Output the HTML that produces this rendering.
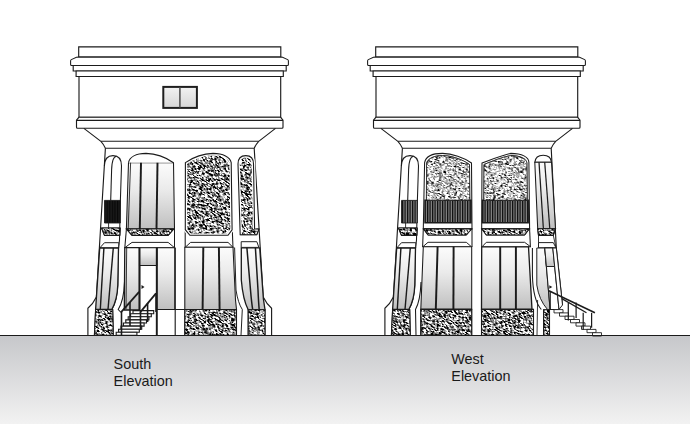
<!DOCTYPE html>
<html><head><meta charset="utf-8"><style>
html,body{margin:0;padding:0;background:#fff;width:690px;height:424px;overflow:hidden;}
svg{position:absolute;left:0;top:0;display:block}
.lbl{position:absolute;font-family:"Liberation Sans",sans-serif;font-size:14.4px;line-height:17px;color:#1a1a1a;}
</style></head><body>
<svg width="690" height="424" viewBox="0 0 690 424">
<defs>
  <filter id="nD" x="0" y="0" width="1" height="1" filterUnits="objectBoundingBox" color-interpolation-filters="sRGB">
    <feTurbulence type="fractalNoise" baseFrequency="0.35 0.9" numOctaves="3" seed="7"/>
    <feColorMatrix type="matrix" values="5 0 0 0 -1.95  5 0 0 0 -1.95  5 0 0 0 -1.95  0 0 0 0 1"/>
  </filter>
  <filter id="nL" x="0" y="0" width="1" height="1" filterUnits="objectBoundingBox" color-interpolation-filters="sRGB">
    <feTurbulence type="fractalNoise" baseFrequency="0.4 1.1" numOctaves="2" seed="11"/>
    <feColorMatrix type="matrix" values="3.4 0 0 0 -0.95  3.4 0 0 0 -0.95  3.4 0 0 0 -0.95  0 0 0 0 1"/>
  </filter>
  <clipPath id="cD"><path transform="translate(0,0)" d="M101.50 228.00 L120.20 228.00 L119.80 235.40 L104.50 235.40 Z"/><path transform="translate(0,0)" d="M95.60 309.50 L112.70 309.50 L113.30 335.30 L94.40 335.30 Z"/><path transform="translate(0,0)" d="M126.40 229.00 L173.80 229.00 L168.10 235.40 L132.00 235.40 Z"/><path transform="translate(0,0)" d="M185.4 162.6 C193 157.5 204 153.6 213 153.4 C223 153.4 230.2 157 231.2 162.6 L232.1 229.7 L228 235.3 L189.9 235.3 L185.3 229.7 Z"/><path transform="translate(0,0)" d="M184.80 309.50 L236.50 309.50 L236.50 335.30 L184.80 335.30 Z"/><path transform="translate(0,0)" d="M238 164 Q238 155.6 245.8 155.6 Q253.5 155.6 253.5 164 L254.6 229 L258.9 229 L256.8 234.7 L240.2 234.7 Z"/><path transform="translate(0,0)" d="M248.20 309.70 L265.00 309.70 L265.00 335.30 L248.20 335.30 Z"/><path transform="translate(297,0)" d="M101.50 228.00 L120.20 228.00 L119.80 235.40 L104.50 235.40 Z"/><path transform="translate(297,0)" d="M95.60 309.50 L112.70 309.50 L113.30 335.30 L94.40 335.30 Z"/><path transform="translate(297,0)" d="M126.50 228.90 L174.70 228.90 L169.30 235.00 L131.00 235.00 Z"/><path transform="translate(297,0)" d="M123.80 309.40 L174.70 309.40 L174.70 335.30 L123.80 335.30 Z"/><path transform="translate(297,0)" d="M184.80 228.90 L232.30 228.90 L227.60 235.00 L189.30 235.00 Z"/><path transform="translate(297,0)" d="M184.50 309.40 L236.50 309.40 L236.50 335.30 L184.50 335.30 Z"/><path transform="translate(297,0)" d="M240.70 228.70 L258.50 228.70 L256.30 235.40 L241.50 235.40 Z"/><path transform="translate(297,0)" d="M246.60 309.70 L252.50 309.70 L252.50 335.30 L246.60 335.30 Z"/></clipPath>
  <clipPath id="cL"><path transform="translate(297,0)" d="M129.6 163.2 C130.5 159 136.5 155.5 145.5 155.5 C154.5 155.7 165 159.2 172.5 164.5 L172.8 200.2 L129.4 200.2 Z"/><path transform="translate(297,0)" d="M187 164.5 C195 161.2 205 157.2 213.5 155.5 C223.5 155.5 229.9 159 229.9 163.2 L230.3 200.2 L186.8 200.2 Z"/></clipPath>
  <linearGradient id="glassV" x1="0" y1="0" x2="0" y2="1">
    <stop offset="0" stop-color="#fcfcfc"/>
    <stop offset="0.4" stop-color="#ebebeb"/>
    <stop offset="1" stop-color="#bfbfbf"/>
  </linearGradient>
  <pattern id="grille" patternUnits="userSpaceOnUse" width="2.5" height="10">
    <rect width="2.5" height="10" fill="#0c0c0c"/>
    <rect x="1.4" width="0.8" height="10" fill="#c8c8c8"/>
  </pattern>
  <pattern id="grilleD" patternUnits="userSpaceOnUse" width="2.6" height="10">
    <rect width="2.6" height="10" fill="#080808"/>
    <rect x="1.5" width="0.6" height="10" fill="#333"/>
  </pattern>
  <linearGradient id="winG" x1="0" y1="0" x2="0" y2="1">
    <stop offset="0" stop-color="#f2f2f2"/>
    <stop offset="1" stop-color="#d6d6d6"/>
  </linearGradient>
  <linearGradient id="ground" x1="0" y1="0" x2="0" y2="1">
    <stop offset="0" stop-color="#c6c7ca"/>
    <stop offset="1" stop-color="#f2f2f2"/>
  </linearGradient>
</defs>
<rect x="0" y="335.3" width="690" height="89" fill="url(#ground)"/><g><path d="M78.70 46.90 L280.80 46.90 L280.80 57.10 L78.70 57.10 Z" fill="#fff" stroke="#1b1b1b" stroke-width="1.14"/><path d="M78.7 57.1 L76.4 57.2 L71.3 59.6 Q70.6 60 70.6 60.9 L70.6 64.5 Q70.6 65.5 71.6 65.5 L287.4 65.5 Q288.4 65.5 288.4 64.5 L288.4 60.9 Q288.4 60 287.7 59.6 L282.6 57.2 L280.8 57.1 Z" fill="#fff" stroke="#1b1b1b" stroke-width="1.06"/><path d="M73.20 65.50 L286.20 65.50 L286.20 71.00 L73.20 71.00 Z" fill="#fff" stroke="#1b1b1b" stroke-width="1.14"/><path d="M76.10 71.00 L283.30 71.00 L283.30 76.50 L76.10 76.50 Z" fill="#fff" stroke="#1b1b1b" stroke-width="1.14"/><path d="M79.00 76.50 L280.70 76.50 L280.70 117.30 L79.00 117.30 Z" fill="#fff" stroke="#1b1b1b" stroke-width="1.14"/><path d="M78.8 117.3 L280.7 117.3 L283 120.2 L283 127.3 Q283 128.3 282 128.3 L77.5 128.3 Q76.5 128.3 76.5 127.3 L76.5 120.2 Z" fill="#fff" stroke="#1b1b1b" stroke-width="1.14"/><path d="M76.50 120.40 L283.00 120.40" fill="none" stroke="#1b1b1b" stroke-width="1.14"/><path d="M83.9 128.3 L100.9 141.3 Q103.5 144 105.4 148.3 L254.2 148.3 Q256.1 144 258.7 141.3 L275.5 128.3" fill="none" stroke="#1b1b1b" stroke-width="1.06"/><path d="M100.90 141.30 L258.70 141.30" fill="none" stroke="#1b1b1b" stroke-width="1.06"/><path d="M105.4 148.3 L96.4 297 Q93 304 87.9 308.3 L87.9 335.3" fill="none" stroke="#1b1b1b" stroke-width="1.14"/><path d="M104.4 166 Q104.6 155.6 113 155.6 Q121.5 155.6 121.5 166" fill="none" stroke="#1b1b1b" stroke-width="1.06"/><path d="M111.6 170 Q112 156.5 116.5 156.2" fill="none" stroke="#1b1b1b" stroke-width="1.06"/><path d="M111.60 170.00 L110.70 200.40" fill="none" stroke="#1b1b1b" stroke-width="1.06"/><path d="M121.5 166 L120.4 200 L119.5 240 L118.3 250 L117.8 285 Q117.3 300 111.8 309.5" fill="none" stroke="#1b1b1b" stroke-width="1.06"/><path d="M104.50 200.40 L120.30 200.40 L120.30 223.00 L104.50 223.00 Z" fill="url(#grilleD)" stroke="#1b1b1b" stroke-width="0.88"/><path d="M108.60 223.00 L108.60 228.00" fill="none" stroke="#1b1b1b" stroke-width="0.88"/><path d="M101.50 228.00 L120.20 228.00 L119.80 235.40 L104.50 235.40 Z" fill="none" stroke="#1b1b1b" stroke-width="0.97"/><path d="M104.50 242.70 L118.80 242.70 L118.60 248.00 L99.70 248.00 Z" fill="#fff" stroke="#1b1b1b" stroke-width="0.97"/><path d="M99.7 248 L118.5 248 L117.8 285 Q117.3 300 111.8 309.5 L95.6 309.5 Z" fill="url(#glassV)" stroke="#1b1b1b" stroke-width="1.32"/><path d="M103.90 248.00 L100.30 309.50" fill="none" stroke="#1b1b1b" stroke-width="1.41"/><path d="M113.30 248.00 L108.00 309.50" fill="none" stroke="#1b1b1b" stroke-width="1.41"/><path d="M95.60 309.50 L112.70 309.50 L113.30 335.30 L94.40 335.30 Z" fill="none" stroke="#1b1b1b" stroke-width="0.97"/><path d="M254.2 148.3 L263.2 297 Q266.6 304 271.6 308.3 L271.6 335.3" fill="none" stroke="#1b1b1b" stroke-width="1.14"/><rect x="163.3" y="86.9" width="33.6" height="21" fill="url(#winG)" stroke="#1e1e1e" stroke-width="2"/><rect x="179.1" y="87.5" width="1.6" height="20" fill="#555"/><path d="M128.50 162.70 L173.50 162.70 L174.50 229.00 L126.40 229.00 Z" fill="url(#glassV)" stroke="#1b1b1b" stroke-width="1.06"/><path d="M128.5 162.7 C129.5 157 136 153.4 146 153.4 C155 153.6 166 157.5 173.5 162.7" fill="#fff" stroke="#1b1b1b" stroke-width="1.06"/><path d="M130.60 162.70 L128.20 229.00" fill="none" stroke="#1b1b1b" stroke-width="0.88"/><path d="M141.00 162.70 L139.80 229.00" fill="none" stroke="#1b1b1b" stroke-width="1.94"/><path d="M157.50 162.70 L156.50 229.00" fill="none" stroke="#1b1b1b" stroke-width="1.94"/><path d="M126.40 229.00 L173.80 229.00 L168.10 235.40 L132.00 235.40 Z" fill="none" stroke="#1b1b1b" stroke-width="0.97"/><path d="M126.40 229.00 L124.80 248.00" fill="none" stroke="#1b1b1b" stroke-width="1.06"/><path d="M174.50 229.00 L174.50 248.00" fill="none" stroke="#1b1b1b" stroke-width="1.06"/><path d="M132.00 242.40 L168.10 242.40 L174.50 247.70 L124.80 247.70 Z" fill="#fff" stroke="#1b1b1b" stroke-width="0.97"/><path d="M124.80 247.70 L139.50 247.70 L139.50 310.00 L124.30 310.00 Z" fill="url(#glassV)" stroke="#1b1b1b" stroke-width="1.32"/><path d="M124.5 282 Q123.8 301 118.2 309.5 L120.6 312" fill="none" stroke="#1b1b1b" stroke-width="1.06"/><path d="M156.80 247.70 L174.80 247.70 L174.80 309.50 L156.80 309.50 Z" fill="url(#glassV)" stroke="#1b1b1b" stroke-width="1.06"/><path d="M139.50 247.70 L156.80 247.70 L156.80 265.50 L139.50 265.50 Z" fill="url(#glassV)" stroke="#1b1b1b" stroke-width="1.06"/><path d="M126.70 248.00 L126.00 309.00" fill="none" stroke="#1b1b1b" stroke-width="0.88"/><path d="M139.50 247.70 L139.50 312.00" fill="none" stroke="#1b1b1b" stroke-width="1.94"/><path d="M156.80 247.70 L156.80 335.30" fill="none" stroke="#1b1b1b" stroke-width="1.94"/><path d="M175.20 247.70 L175.20 335.30" fill="none" stroke="#1b1b1b" stroke-width="1.14"/><path d="M156.80 309.50 L184.80 309.50" fill="none" stroke="#1b1b1b" stroke-width="1.06"/><path d="M141.5 285 L144.5 287 L141.5 289 Z" fill="#1b1b1b"/><path d="M133.00 310.60 L153.70 310.60 L153.70 313.70 L133.00 313.70 Z" fill="#fff" stroke="#1b1b1b" stroke-width="1.14"/><path d="M130.60 313.70 L151.30 313.70 L151.30 316.80 L130.60 316.80 Z" fill="#fff" stroke="#1b1b1b" stroke-width="1.14"/><path d="M128.20 316.80 L148.90 316.80 L148.90 319.90 L128.20 319.90 Z" fill="#fff" stroke="#1b1b1b" stroke-width="1.14"/><path d="M125.80 319.90 L146.50 319.90 L146.50 323.00 L125.80 323.00 Z" fill="#fff" stroke="#1b1b1b" stroke-width="1.14"/><path d="M123.40 323.00 L144.10 323.00 L144.10 326.10 L123.40 326.10 Z" fill="#fff" stroke="#1b1b1b" stroke-width="1.14"/><path d="M121.00 326.10 L141.70 326.10 L141.70 329.20 L121.00 329.20 Z" fill="#fff" stroke="#1b1b1b" stroke-width="1.14"/><path d="M118.60 329.20 L139.30 329.20 L139.30 332.30 L118.60 332.30 Z" fill="#fff" stroke="#1b1b1b" stroke-width="1.14"/><path d="M116.20 332.30 L136.90 332.30 L136.90 335.40 L116.20 335.40 Z" fill="#fff" stroke="#1b1b1b" stroke-width="1.14"/><path d="M120.70 312.60 L139.10 291.90" fill="none" stroke="#1b1b1b" stroke-width="1.76"/><path d="M139.90 312.60 L156.00 293.40" fill="none" stroke="#1b1b1b" stroke-width="1.76"/><path d="M121.50 312.00 L121.50 335.00" fill="none" stroke="#1b1b1b" stroke-width="1.58"/><path d="M130.00 302.00 L130.00 326.00" fill="none" stroke="#1b1b1b" stroke-width="1.58"/><path d="M140.50 312.00 L140.50 330.00" fill="none" stroke="#1b1b1b" stroke-width="1.58"/><path d="M147.60 303.00 L147.60 322.00" fill="none" stroke="#1b1b1b" stroke-width="1.58"/><path d="M156.00 293.00 L156.00 312.00" fill="none" stroke="#1b1b1b" stroke-width="1.58"/><path d="M185.4 162.6 C193 157.5 204 153.6 213 153.4 C223 153.4 230.2 157 231.2 162.6 L232.1 229.7 L228 235.3 L189.9 235.3 L185.3 229.7 Z" fill="none" stroke="#1b1b1b" stroke-width="0.97"/><path d="M185.20 229.70 L185.20 248.00" fill="none" stroke="#1b1b1b" stroke-width="1.06"/><path d="M232.30 229.70 L233.00 248.00" fill="none" stroke="#1b1b1b" stroke-width="1.06"/><path d="M190.60 242.40 L228.00 242.40 L233.00 247.30 L185.20 247.30 Z" fill="#fff" stroke="#1b1b1b" stroke-width="0.97"/><path d="M184.80 247.30 L233.00 247.30 L235.50 300.00 L236.50 309.50 L184.80 309.50 Z" fill="url(#glassV)" stroke="#1b1b1b" stroke-width="1.06"/><path d="M203.30 247.30 L202.60 309.50" fill="none" stroke="#1b1b1b" stroke-width="1.94"/><path d="M218.90 247.30 L219.60 309.50" fill="none" stroke="#1b1b1b" stroke-width="1.94"/><path d="M184.80 309.50 L236.50 309.50 L236.50 335.30 L184.80 335.30 Z" fill="none" stroke="#1b1b1b" stroke-width="0.97"/><path d="M238 164 Q238 155.6 245.8 155.6 Q253.5 155.6 253.5 164 L254.6 229 L258.9 229 L256.8 234.7 L240.2 234.7 Z" fill="none" stroke="#1b1b1b" stroke-width="0.97"/><path d="M239.90 229.00 L254.60 229.00" fill="none" stroke="#1b1b1b" stroke-width="0.88"/><path d="M241.20 241.70 L256.80 241.70 L258.90 247.40 L241.20 247.40 Z" fill="#fff" stroke="#1b1b1b" stroke-width="0.97"/><path d="M241.3 247.8 L259.7 247.8 L263.4 299 L265 309.7 L248.2 309.7 Q243 300 241.3 280 Z" fill="url(#glassV)" stroke="#1b1b1b" stroke-width="1.32"/><path d="M246.9 247.8 L250.5 290 Q251.5 302 252.7 309.7" fill="none" stroke="#1b1b1b" stroke-width="1.50"/><path d="M255.4 247.8 L258 290 Q258.5 302 259.2 309.7" fill="none" stroke="#1b1b1b" stroke-width="1.50"/><path d="M234.6 247.5 L236 290 Q238 303 242.3 309.5 L241 335.3" fill="none" stroke="#1b1b1b" stroke-width="0.97"/><path d="M248.20 309.70 L265.00 309.70 L265.00 335.30 L248.20 335.30 Z" fill="none" stroke="#1b1b1b" stroke-width="0.97"/></g><g transform="translate(297,0)"><path d="M78.70 46.90 L280.80 46.90 L280.80 57.10 L78.70 57.10 Z" fill="#fff" stroke="#1b1b1b" stroke-width="1.14"/><path d="M78.7 57.1 L76.4 57.2 L71.3 59.6 Q70.6 60 70.6 60.9 L70.6 64.5 Q70.6 65.5 71.6 65.5 L287.4 65.5 Q288.4 65.5 288.4 64.5 L288.4 60.9 Q288.4 60 287.7 59.6 L282.6 57.2 L280.8 57.1 Z" fill="#fff" stroke="#1b1b1b" stroke-width="1.06"/><path d="M73.20 65.50 L286.20 65.50 L286.20 71.00 L73.20 71.00 Z" fill="#fff" stroke="#1b1b1b" stroke-width="1.14"/><path d="M76.10 71.00 L283.30 71.00 L283.30 76.50 L76.10 76.50 Z" fill="#fff" stroke="#1b1b1b" stroke-width="1.14"/><path d="M79.00 76.50 L280.70 76.50 L280.70 117.30 L79.00 117.30 Z" fill="#fff" stroke="#1b1b1b" stroke-width="1.14"/><path d="M78.8 117.3 L280.7 117.3 L283 120.2 L283 127.3 Q283 128.3 282 128.3 L77.5 128.3 Q76.5 128.3 76.5 127.3 L76.5 120.2 Z" fill="#fff" stroke="#1b1b1b" stroke-width="1.14"/><path d="M76.50 120.40 L283.00 120.40" fill="none" stroke="#1b1b1b" stroke-width="1.14"/><path d="M83.9 128.3 L100.9 141.3 Q103.5 144 105.4 148.3 L254.2 148.3 Q256.1 144 258.7 141.3 L275.5 128.3" fill="none" stroke="#1b1b1b" stroke-width="1.06"/><path d="M100.90 141.30 L258.70 141.30" fill="none" stroke="#1b1b1b" stroke-width="1.06"/><path d="M105.4 148.3 L96.4 297 Q93 304 87.9 308.3 L87.9 335.3" fill="none" stroke="#1b1b1b" stroke-width="1.14"/><path d="M104.4 166 Q104.6 155.6 113 155.6 Q121.5 155.6 121.5 166" fill="none" stroke="#1b1b1b" stroke-width="1.06"/><path d="M111.6 170 Q112 156.5 116.5 156.2" fill="none" stroke="#1b1b1b" stroke-width="1.06"/><path d="M111.60 170.00 L110.70 200.40" fill="none" stroke="#1b1b1b" stroke-width="1.06"/><path d="M121.5 166 L120.4 200 L119.5 240 L118.3 250 L117.8 285 Q117.3 300 111.8 309.5" fill="none" stroke="#1b1b1b" stroke-width="1.06"/><path d="M104.50 200.40 L120.30 200.40 L120.30 223.00 L104.50 223.00 Z" fill="url(#grille)" stroke="#1b1b1b" stroke-width="0.88"/><path d="M108.60 223.00 L108.60 228.00" fill="none" stroke="#1b1b1b" stroke-width="0.88"/><path d="M101.50 228.00 L120.20 228.00 L119.80 235.40 L104.50 235.40 Z" fill="none" stroke="#1b1b1b" stroke-width="0.97"/><path d="M104.50 242.70 L118.80 242.70 L118.60 248.00 L99.70 248.00 Z" fill="#fff" stroke="#1b1b1b" stroke-width="0.97"/><path d="M99.7 248 L118.5 248 L117.8 285 Q117.3 300 111.8 309.5 L95.6 309.5 Z" fill="url(#glassV)" stroke="#1b1b1b" stroke-width="1.32"/><path d="M103.90 248.00 L100.30 309.50" fill="none" stroke="#1b1b1b" stroke-width="1.41"/><path d="M113.30 248.00 L108.00 309.50" fill="none" stroke="#1b1b1b" stroke-width="1.41"/><path d="M95.60 309.50 L112.70 309.50 L113.30 335.30 L94.40 335.30 Z" fill="none" stroke="#1b1b1b" stroke-width="0.97"/><path d="M254.20 148.30 L259.30 248.00 L265.50 305.00" fill="none" stroke="#1b1b1b" stroke-width="1.14"/><path d="M127.6 162.6 C128.6 157 135 153.4 145.5 153.4 C155 153.6 167 157.5 174.5 163 L175 229 L126.3 229 Z" fill="#fff" stroke="#1b1b1b" stroke-width="1.06"/><path d="M129.6 163.2 C130.5 159 136.5 155.5 145.5 155.5 C154.5 155.7 165 159.2 172.5 164.5 L172.8 200.2 L129.4 200.2 Z" fill="none" stroke="#1b1b1b" stroke-width="0.70"/><path d="M128.00 200.20 L174.00 200.20 L174.00 222.80 L128.00 222.80 Z" fill="url(#grille)" stroke="#1b1b1b" stroke-width="1.50"/><path d="M126.50 228.90 L174.70 228.90 L169.30 235.00 L131.00 235.00 Z" fill="none" stroke="#1b1b1b" stroke-width="0.97"/><path d="M126.30 229.00 L125.60 247.00" fill="none" stroke="#1b1b1b" stroke-width="1.06"/><path d="M175.00 229.00 L175.00 247.00" fill="none" stroke="#1b1b1b" stroke-width="1.06"/><path d="M131.00 242.30 L169.30 242.30 L174.50 246.80 L125.80 246.80 Z" fill="#fff" stroke="#1b1b1b" stroke-width="0.97"/><path d="M126.30 246.80 L174.70 246.80 L174.70 309.40 L123.80 309.40 Z" fill="url(#glassV)" stroke="#1b1b1b" stroke-width="1.06"/><path d="M140.60 246.80 L138.80 309.40" fill="none" stroke="#1b1b1b" stroke-width="1.94"/><path d="M156.60 246.80 L156.40 309.40" fill="none" stroke="#1b1b1b" stroke-width="1.94"/><path d="M123.80 309.40 L174.70 309.40 L174.70 335.30 L123.80 335.30 Z" fill="none" stroke="#1b1b1b" stroke-width="0.97"/><path d="M124 282 Q123.3 301 118.5 309.5 L119 335.3" fill="none" stroke="#1b1b1b" stroke-width="1.06"/><path d="M185 163 C194 159.6 205 155.2 213.5 153.4 C225 153.4 231.9 157 231.9 162.6 L232.6 229 L184.7 229 Z" fill="#fff" stroke="#1b1b1b" stroke-width="1.06"/><path d="M187 164.5 C195 161.2 205 157.2 213.5 155.5 C223.5 155.5 229.9 159 229.9 163.2 L230.3 200.2 L186.8 200.2 Z" fill="none" stroke="#1b1b1b" stroke-width="0.70"/><path d="M185.50 200.20 L231.20 200.20 L231.20 222.80 L185.50 222.80 Z" fill="url(#grille)" stroke="#1b1b1b" stroke-width="1.50"/><path d="M184.80 228.90 L232.30 228.90 L227.60 235.00 L189.30 235.00 Z" fill="none" stroke="#1b1b1b" stroke-width="0.97"/><path d="M184.70 229.00 L184.70 247.00" fill="none" stroke="#1b1b1b" stroke-width="1.06"/><path d="M232.60 229.00 L233.40 247.00" fill="none" stroke="#1b1b1b" stroke-width="1.06"/><path d="M189.30 242.30 L227.60 242.30 L233.70 246.80 L185.00 246.80 Z" fill="#fff" stroke="#1b1b1b" stroke-width="0.97"/><path d="M184.70 246.80 L231.50 246.80 L235.00 309.40 L184.50 309.40 Z" fill="url(#glassV)" stroke="#1b1b1b" stroke-width="1.32"/><path d="M203.20 246.80 L203.20 309.40" fill="none" stroke="#1b1b1b" stroke-width="1.94"/><path d="M218.90 246.80 L218.90 309.40" fill="none" stroke="#1b1b1b" stroke-width="1.94"/><path d="M184.50 309.40 L236.50 309.40 L236.50 335.30 L184.50 335.30 Z" fill="none" stroke="#1b1b1b" stroke-width="0.97"/><path d="M237.8 162.3 Q238.5 155.3 246.2 155.3 Q253.8 155.3 254.5 162.3 Z" fill="#fff" stroke="#1b1b1b" stroke-width="1.06"/><path d="M237.80 162.30 L254.50 162.30 L258.50 228.70 L240.70 228.70 Z" fill="url(#glassV)" stroke="#1b1b1b" stroke-width="1.06"/><path d="M242.00 162.30 L246.40 228.70" fill="none" stroke="#1b1b1b" stroke-width="1.23"/><path d="M247.70 162.30 L252.80 228.70" fill="none" stroke="#1b1b1b" stroke-width="1.23"/><path d="M240.70 228.70 L258.50 228.70 L256.30 235.40 L241.50 235.40 Z" fill="none" stroke="#1b1b1b" stroke-width="0.97"/><path d="M241.50 235.40 L241.50 247.80" fill="none" stroke="#1b1b1b" stroke-width="0.88"/><path d="M256.30 235.40 L259.00 247.80" fill="none" stroke="#1b1b1b" stroke-width="0.88"/><path d="M241.50 242.60 L256.30 242.60 L259.00 247.80 L241.50 247.80 Z" fill="#fff" stroke="#1b1b1b" stroke-width="0.97"/><path d="M239.8 248 L247.8 248 L253.1 309.5 L250.5 309.5 Q242 300 239.8 285 Z" fill="url(#glassV)" stroke="#1b1b1b" stroke-width="0.97"/><path d="M247.80 248.00 L255.80 248.00 L262.00 309.50 L253.10 309.50 Z" fill="#fff" stroke="#1b1b1b" stroke-width="1.06"/><path d="M247.80 248.00 L255.80 248.00 L257.70 266.50 L249.40 266.50 Z" fill="url(#glassV)" stroke="#1b1b1b" stroke-width="0.97"/><path d="M255.80 248.00 L259.30 248.00 L265.50 305.00 L262.00 309.50 Z" fill="#fff" stroke="#1b1b1b" stroke-width="0.97"/><path d="M235.4 248 L235.4 275 Q236 300 244.3 309.5" fill="none" stroke="#1b1b1b" stroke-width="1.06"/><path d="M240.60 300.00 L240.00 335.30" fill="none" stroke="#1b1b1b" stroke-width="0.88"/><path d="M252.50 309.50 L252.50 335.30" fill="none" stroke="#1b1b1b" stroke-width="0.97"/><path d="M246.60 309.70 L252.50 309.70 L252.50 335.30 L246.60 335.30 Z" fill="none" stroke="#1b1b1b" stroke-width="0.97"/><path d="M252.3 285.2 L255.3 286.9 L252.3 288.8 Z" fill="#1b1b1b"/><path d="M257.00 309.60 L266.00 309.60 L266.00 312.90 L257.00 312.90 Z" fill="#fff" stroke="#1b1b1b" stroke-width="0.88"/><path d="M262.50 312.90 L271.50 312.90 L271.50 316.20 L262.50 316.20 Z" fill="#fff" stroke="#1b1b1b" stroke-width="0.88"/><path d="M268.00 316.20 L277.00 316.20 L277.00 319.50 L268.00 319.50 Z" fill="#fff" stroke="#1b1b1b" stroke-width="0.88"/><path d="M273.50 319.50 L282.50 319.50 L282.50 322.80 L273.50 322.80 Z" fill="#fff" stroke="#1b1b1b" stroke-width="0.88"/><path d="M279.00 322.80 L288.00 322.80 L288.00 326.10 L279.00 326.10 Z" fill="#fff" stroke="#1b1b1b" stroke-width="0.88"/><path d="M284.50 326.10 L293.50 326.10 L293.50 329.40 L284.50 329.40 Z" fill="#fff" stroke="#1b1b1b" stroke-width="0.88"/><path d="M290.00 329.40 L299.00 329.40 L299.00 332.70 L290.00 332.70 Z" fill="#fff" stroke="#1b1b1b" stroke-width="0.88"/><path d="M295.50 332.70 L304.50 332.70 L304.50 336.00 L295.50 336.00 Z" fill="#fff" stroke="#1b1b1b" stroke-width="0.88"/><path d="M251.90 290.80 L297.90 312.80" fill="none" stroke="#1b1b1b" stroke-width="1.50"/><path d="M264.80 298.60 L289.50 312.80" fill="none" stroke="#1b1b1b" stroke-width="1.32"/><path d="M253.20 291.00 L253.20 309.50" fill="none" stroke="#1b1b1b" stroke-width="1.23"/><path d="M271.30 303.10 L271.30 320.60" fill="none" stroke="#1b1b1b" stroke-width="1.23"/><path d="M279.10 302.50 L279.10 318.00" fill="none" stroke="#1b1b1b" stroke-width="1.23"/><path d="M286.20 312.80 L286.20 329.70" fill="none" stroke="#1b1b1b" stroke-width="1.23"/><path d="M294.60 312.80 L294.60 327.70" fill="none" stroke="#1b1b1b" stroke-width="1.23"/></g><g clip-path="url(#cD)"><g transform="rotate(32 345 240)"><rect x="-100" y="-150" width="900" height="800" fill="#fff" filter="url(#nD)"/></g></g><g clip-path="url(#cL)"><g transform="rotate(20 345 240)"><rect x="-100" y="-150" width="900" height="800" fill="#fff" filter="url(#nL)"/></g></g><path transform="translate(0,0)" d="M185.4 162.6 C193 157.5 204 153.6 213 153.4 C223 153.4 230.2 157 231.2 162.6 L232.1 229.7 L228 235.3 L189.9 235.3 L185.3 229.7 Z" fill="none" stroke="#fff" stroke-width="3.6"/><path transform="translate(0,0)" d="M240.2 234.7 L238 164 Q238 155.6 245.8 155.6 Q253.5 155.6 253.5 164 L254.6 229" fill="none" stroke="#fff" stroke-width="3.6"/><path transform="translate(0,0)" d="M101.50 228.00 L120.20 228.00 L119.80 235.40 L104.50 235.40 Z" fill="none" stroke="#1b1b1b" stroke-width="1.1"/><path transform="translate(0,0)" d="M95.60 309.50 L112.70 309.50 L113.30 335.30 L94.40 335.30 Z" fill="none" stroke="#1b1b1b" stroke-width="1.1"/><path transform="translate(0,0)" d="M126.40 229.00 L173.80 229.00 L168.10 235.40 L132.00 235.40 Z" fill="none" stroke="#1b1b1b" stroke-width="1.1"/><path transform="translate(0,0)" d="M185.4 162.6 C193 157.5 204 153.6 213 153.4 C223 153.4 230.2 157 231.2 162.6 L232.1 229.7 L228 235.3 L189.9 235.3 L185.3 229.7 Z" fill="none" stroke="#1b1b1b" stroke-width="1.1"/><path transform="translate(0,0)" d="M184.80 309.50 L236.50 309.50 L236.50 335.30 L184.80 335.30 Z" fill="none" stroke="#1b1b1b" stroke-width="1.1"/><path transform="translate(0,0)" d="M238 164 Q238 155.6 245.8 155.6 Q253.5 155.6 253.5 164 L254.6 229 L258.9 229 L256.8 234.7 L240.2 234.7 Z" fill="none" stroke="#1b1b1b" stroke-width="1.1"/><path transform="translate(0,0)" d="M248.20 309.70 L265.00 309.70 L265.00 335.30 L248.20 335.30 Z" fill="none" stroke="#1b1b1b" stroke-width="1.1"/><path transform="translate(297,0)" d="M101.50 228.00 L120.20 228.00 L119.80 235.40 L104.50 235.40 Z" fill="none" stroke="#1b1b1b" stroke-width="1.1"/><path transform="translate(297,0)" d="M95.60 309.50 L112.70 309.50 L113.30 335.30 L94.40 335.30 Z" fill="none" stroke="#1b1b1b" stroke-width="1.1"/><path transform="translate(297,0)" d="M126.50 228.90 L174.70 228.90 L169.30 235.00 L131.00 235.00 Z" fill="none" stroke="#1b1b1b" stroke-width="1.1"/><path transform="translate(297,0)" d="M123.80 309.40 L174.70 309.40 L174.70 335.30 L123.80 335.30 Z" fill="none" stroke="#1b1b1b" stroke-width="1.1"/><path transform="translate(297,0)" d="M184.80 228.90 L232.30 228.90 L227.60 235.00 L189.30 235.00 Z" fill="none" stroke="#1b1b1b" stroke-width="1.1"/><path transform="translate(297,0)" d="M184.50 309.40 L236.50 309.40 L236.50 335.30 L184.50 335.30 Z" fill="none" stroke="#1b1b1b" stroke-width="1.1"/><path transform="translate(297,0)" d="M240.70 228.70 L258.50 228.70 L256.30 235.40 L241.50 235.40 Z" fill="none" stroke="#1b1b1b" stroke-width="1.1"/><path transform="translate(297,0)" d="M246.60 309.70 L252.50 309.70 L252.50 335.30 L246.60 335.30 Z" fill="none" stroke="#1b1b1b" stroke-width="1.1"/><path transform="translate(297,0)" d="M129.6 163.2 C130.5 159 136.5 155.5 145.5 155.5 C154.5 155.7 165 159.2 172.5 164.5 L172.8 200.2 L129.4 200.2 Z" fill="none" stroke="#1b1b1b" stroke-width="0.8"/><path transform="translate(297,0)" d="M187 164.5 C195 161.2 205 157.2 213.5 155.5 C223.5 155.5 229.9 159 229.9 163.2 L230.3 200.2 L186.8 200.2 Z" fill="none" stroke="#1b1b1b" stroke-width="0.8"/><path d="M0.00 335.50 L690.00 335.50" fill="none" stroke="#1b1b1b" stroke-width="1.14"/></svg>
<div class="lbl" style="left:113.6px;top:355.5px">South<br>Elevation</div>
<div class="lbl" style="left:451.3px;top:351px">West<br>Elevation</div>
</body></html>
